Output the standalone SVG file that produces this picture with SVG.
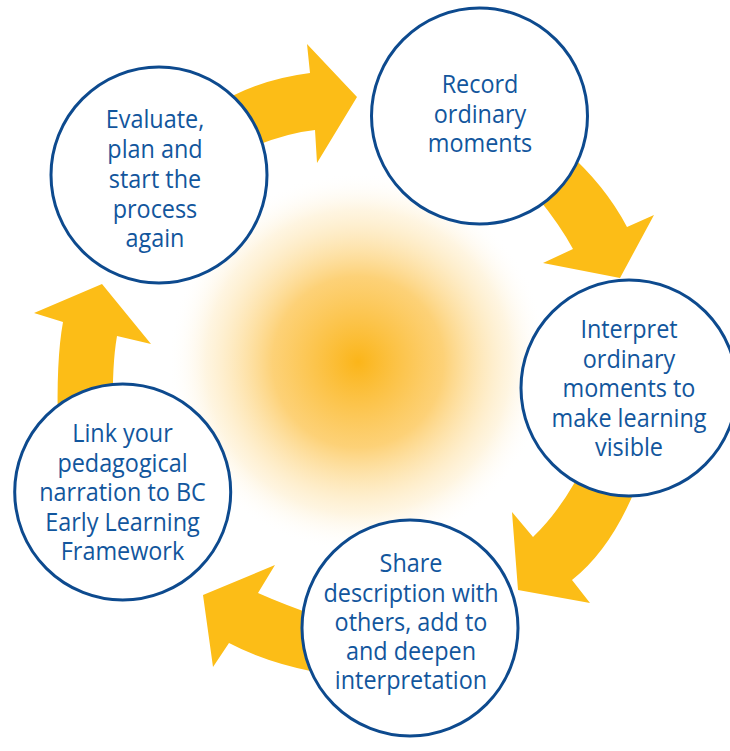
<svg xmlns="http://www.w3.org/2000/svg" width="730" height="751" viewBox="0 0 730 751">
<defs>
<radialGradient id="glow" cx="358" cy="362" r="190" gradientUnits="userSpaceOnUse">
<stop offset="0" stop-color="#fbb519" stop-opacity="1"/>
<stop offset="0.45" stop-color="#fcc24a" stop-opacity="0.75"/>
<stop offset="0.8" stop-color="#fde2a8" stop-opacity="0.35"/>
<stop offset="1" stop-color="#ffffff" stop-opacity="0"/>
</radialGradient>
</defs>
<style>
.arrow{fill:#fcbd17;}
.node circle{fill:#ffffff;stroke:#0d4a8e;stroke-width:3;}
.node text{font-family:"Open Sans","Noto Sans",sans-serif;font-size:26px;fill:#12569d;text-anchor:middle;}
</style>
<rect width="730" height="751" fill="#ffffff"/>
<circle cx="358" cy="362" r="190" fill="url(#glow)"/>
<g id="connectors">
<path class="arrow" d="M 215,106 Q 255,80 310,73 L 307,44 L 357,97 L 317,163 L 315,130 Q 285,133 245,150 Z"/>
<path class="arrow" d="M 565,150 Q 605,185 627,227 L 654,215 L 620,278 L 543,263 L 573,249 Q 560,225 538,198 Z"/>
<path class="arrow" d="M 635,490 Q 610,550 572,580 L 590,603 L 518,590 L 512,512 L 533,537 Q 556,515 575,482 Z"/>
<path class="arrow" d="M 320,617 Q 285,605 258,593 L 275,565 L 203,595 L 213,667 L 229,643 Q 265,662 315,672 Z"/>
<path class="arrow" d="M 58,430 Q 56,360 63,322 L 34,313 L 102,284 L 151,344 L 117,336 Q 112,365 113,410 Z"/>
</g>
<g id="evaluate" class="node">
<circle cx="159" cy="175" r="108"/>
<g transform="translate(155 0) scale(0.9 1) translate(-155 0)">
<text x="155" y="128">Evaluate,</text>
<text x="155" y="158">plan and</text>
<text x="155" y="188">start the</text>
<text x="155" y="218">process</text>
<text x="155" y="247">again</text>
</g>
</g>
<g id="record" class="node">
<circle cx="479.5" cy="116" r="108"/>
<g transform="translate(480 0) scale(0.9 1) translate(-480 0)">
<text x="480" y="93">Record</text>
<text x="480" y="123">ordinary</text>
<text x="480" y="152">moments</text>
</g>
</g>
<g id="interpret" class="node">
<circle cx="629" cy="388" r="108"/>
<g transform="translate(629 0) scale(0.9 1) translate(-629 0)">
<text x="629" y="338">Interpret</text>
<text x="629" y="368">ordinary</text>
<text x="629" y="397">moments to</text>
<text x="629" y="427">make learning</text>
<text x="629" y="456">visible</text>
</g>
</g>
<g id="share" class="node">
<circle cx="410" cy="628" r="108"/>
<g transform="translate(411 0) scale(0.9 1) translate(-411 0)">
<text x="411" y="572">Share</text>
<text x="411" y="602">description with</text>
<text x="411" y="631">others, add to</text>
<text x="411" y="660">and deepen</text>
<text x="411" y="689">interpretation</text>
</g>
</g>
<g id="link" class="node">
<circle cx="122.7" cy="492" r="108"/>
<g transform="translate(122.5 0) scale(0.9 1) translate(-122.5 0)">
<text x="122.5" y="442">Link your</text>
<text x="122.5" y="472">pedagogical</text>
<text x="122.5" y="501">narration to BC</text>
<text x="122.5" y="531">Early Learning</text>
<text x="122.5" y="560">Framework</text>
</g>
</g>
</svg>
